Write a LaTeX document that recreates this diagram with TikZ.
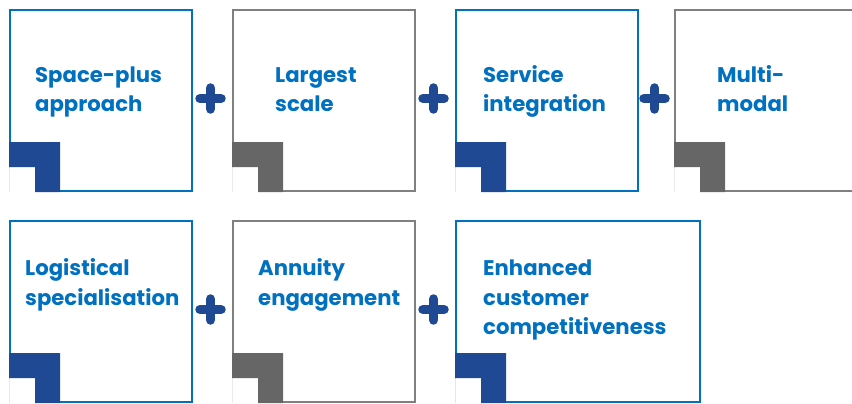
\documentclass[tikz,border=0pt]{standalone}
\usepackage{fontspec}
\setmainfont{Poppins}
\usetikzlibrary{positioning,calc}
\definecolor{tileblue}{RGB}{0,112,192}
\definecolor{tilegray}{RGB}{128,128,128}
\definecolor{markblue}{RGB}{31,73,147}
\definecolor{markgray}{RGB}{102,102,102}

\begin{document}
\begin{tikzpicture}[x=1pt, y=-1pt,
  tile/.style={draw, line width=2pt, minimum width=182pt, minimum height=181pt, inner sep=0pt, outer sep=0pt},
  bluetile/.style={tile, draw=tileblue},
  graytile/.style={tile, draw=tilegray},
  tiletext/.style={anchor=base west, align=left, inner sep=0pt, text=tileblue, font=\bfseries\fontsize{21.2}{29.5}\selectfont},
  plus/.style={draw=markblue, line width=9.5pt, line cap=round},
  node distance=30pt and 41pt]
\useasboundingbox (0,0) rectangle (852,404);
% first row
\node[bluetile, anchor=north west] (space) at (10,10) {};
\node[graytile, right=of space] (scale) {};
\node[bluetile, right=of scale] (service) {};
\node[graytile, right=37pt of service, minimum width=200pt] (modal) {};
% second row
\node[bluetile, below=of space] (logistic) {};
\node[graytile, right=of logistic] (annuity) {};
\node[bluetile, right=of annuity, minimum width=244pt] (customer) {};
% corner marks
\foreach \b/\c in {space/markblue, scale/markgray, service/markblue, modal/markgray,
                   logistic/markblue, annuity/markgray, customer/markblue} {
  \fill[white] ([shift={(-1.5,1.5)}]\b.south west) rectangle ++(26.5,-26);
  \fill[\c] ([shift={(-1,1)}]\b.south west) -- ++(0,-50) -- ++(51,0) -- ++(0,50)
    -- ++(-25,0) -- ++(0,-25) -- ++(-26,0) -- cycle;
}
% texts
\node[tiletext] (t1) at ([shift={(25,101.5)}]space.north west) {Space-plus\\approach};
\node[tiletext] (t2) at ([shift={(42,101.5)}]scale.north west) {Largest\\scale};
\node[tiletext] (t3) at ([shift={(27,101.5)}]service.north west) {Service\\integration};
\node[tiletext] (t4) at ([shift={(42,101.5)}]modal.north west) {Multi-\\modal};
\node[tiletext] (t5) at ([shift={(15,84)}]logistic.north west) {Logistical\\specialisation};
\node[tiletext] (t6) at ([shift={(25,84)}]annuity.north west) {Annuity\\engagement};
\node[tiletext] (t7) at ([shift={(27,113.5)}]customer.north west) {Enhanced\\customer\\competitiveness};
% plus signs
\foreach \l/\r [count=\i] in {space/scale, scale/service, service/modal, logistic/annuity, annuity/customer} {
  \coordinate (p\i) at ($(\l.east)!.5!(\r.west) + (-2,-2)$);
  \draw[plus] ([xshift=-10.5pt]p\i) -- ([xshift=10.5pt]p\i);
  \draw[plus] ([yshift=-10.5pt]p\i) -- ([yshift=10.5pt]p\i);
}
\end{tikzpicture}
\end{document}
